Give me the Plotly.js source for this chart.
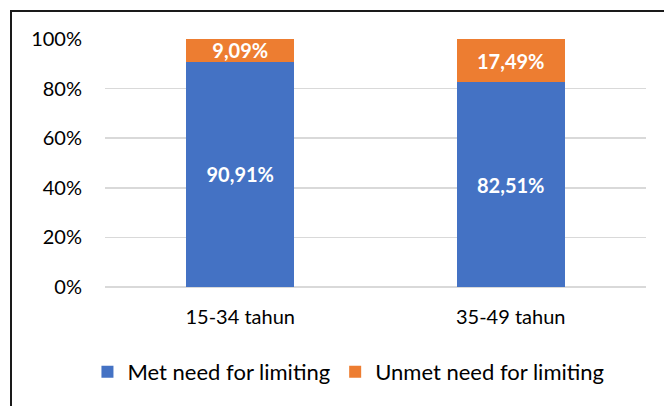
<!DOCTYPE html>
<html>
<head>
<meta charset="utf-8">
<script src="https://cdn.plot.ly/plotly-3.0.1.min.js"></script>
<style>
  html, body { margin: 0; padding: 0; background: #fff; }
  #frame { position: absolute; left: 10px; top: 10px; width: 700px; height: 500px;
           border-left: 2px solid #1a1a1a; border-top: 2px solid #1a1a1a; }
  #chart { position: absolute; left: 0; top: 0; width: 664px; height: 406px; }
</style>
</head>
<body>
<div id="frame"></div>
<div id="chart"></div>
<script>
const categories = ["15-34 tahun", "35-49 tahun"];
const metNeed = [90.91, 82.51];
const unmetNeed = [9.09, 17.49];
const metLabels = ["90,91%", "82,51%"];
const unmetLabels = ["9,09%", "17,49%"];
const yTickVals = [0, 20, 40, 60, 80, 100];
const yTickText = ["0%", "20%", "40%", "60%", "80%", "100%"];

const font = "Lato, 'Open Sans', sans-serif";

const traces = [
  {
    type: "bar", name: "Met need for limiting", x: categories, y: metNeed,
    text: metLabels, textposition: "inside", insidetextanchor: "middle", constraintext: "none",
    textfont: { color: "#ffffff", size: 20, family: font, weight: "bold" },
    marker: { color: "#4472C4" }, hoverinfo: "skip"
  },
  {
    type: "bar", name: "Unmet need for limiting", x: categories, y: unmetNeed,
    text: unmetLabels, textposition: "inside", insidetextanchor: "middle", constraintext: "none",
    textfont: { color: "#ffffff", size: 20, family: font, weight: "bold" },
    marker: { color: "#ED7D31" }, hoverinfo: "skip"
  }
];

const layout = {
  width: 664, height: 406,
  margin: { l: 105, r: 18, t: 39, b: 119 },
  paper_bgcolor: "rgba(0,0,0,0)", plot_bgcolor: "rgba(0,0,0,0)",
  barmode: "stack", bargap: 0.6,
  font: { family: font, size: 20, color: "#000" },
  showlegend: true,
  legend: { orientation: "h", x: 0.45, xanchor: "center", y: -0.343, yanchor: "middle",
            font: { size: 22, family: font }, traceorder: "normal", itemwidth: 30 },
  xaxis: { showline: false, ticks: "", tickfont: { size: 20 }, ticklabelstandoff: 16, fixedrange: true },
  yaxis: { range: [0, 100], tickvals: yTickVals, ticktext: yTickText,
           showgrid: true, gridcolor: "#d9d9d9", gridwidth: 1.5, zeroline: true,
           zerolinecolor: "#d9d9d9", zerolinewidth: 1.5, ticks: "", ticklabelstandoff: 22,
           tickfont: { size: 20 }, fixedrange: true }
};

Plotly.newPlot("chart", traces, layout, { displayModeBar: false, staticPlot: true });
</script>
</body>
</html>
